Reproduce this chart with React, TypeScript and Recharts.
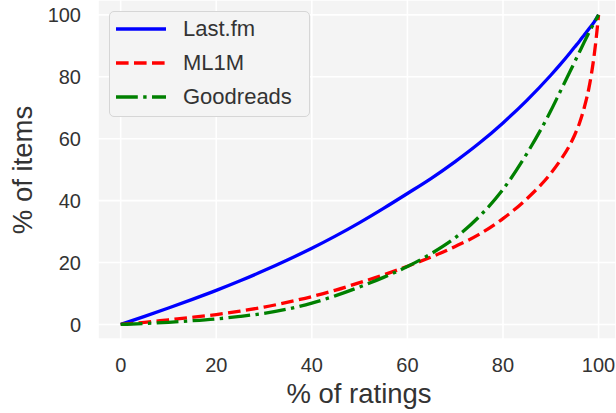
import React from 'react';
import { LineChart, Line, XAxis, YAxis, CartesianGrid, Legend } from 'recharts';

// ---- data ----
const ratingsPct = [0, 5, 10, 15, 20, 25, 30, 35, 40, 45, 50, 55, 60, 65, 70, 75, 80, 85, 90, 92, 94, 95, 96, 97, 98, 98.5, 99, 99.5, 100];
const lastfmItems = [0, 2.6, 5.3, 8.1, 11.0, 14.1, 17.4, 20.9, 24.6, 28.6, 32.9, 37.5, 42.3, 47.2, 52.6, 58.5, 65.1, 72.4, 80.5, 84.0, 87.7, 89.6, 91.5, 93.5, 95.5, 96.5, 97.5, 98.7, 100];
const ml1mItems = [0, 0.7, 1.5, 2.3, 3.2, 4.3, 5.6, 7.2, 9.0, 11.1, 13.5, 16.0, 18.8, 21.8, 25.2, 29.1, 34.2, 40.6, 48.8, 53.0, 58.0, 61.2, 65.0, 70.0, 76.5, 80.8, 86.0, 92.3, 100];
const goodreadsItems = [0, 0.3, 0.7, 1.2, 1.8, 2.6, 3.6, 5.0, 6.9, 9.3, 12.1, 15.2, 18.7, 22.9, 28.0, 34.8, 43.6, 55.2, 69.0, 75.3, 81.6, 84.8, 88.0, 91.2, 94.3, 95.8, 97.2, 98.6, 100];
const xTicks = [0, 20, 40, 60, 80, 100];
const yTicks = [0, 20, 40, 60, 80, 100];
const seriesNames = ['Last.fm', 'ML1M', 'Goodreads'];
const xTitle = '% of ratings';
const yTitle = '% of items';

const data = ratingsPct.map((x, i) => ({
  x,
  lastfm: lastfmItems[i],
  ml1m: ml1mItems[i],
  goodreads: goodreadsItems[i],
}));

const FONT = '"Liberation Sans", Arial, Helvetica, sans-serif';
const TEXT = '#333333';
const BG = '#f4f4f4';
const LW = 3.3;

const seriesStyle = [
  { key: 'lastfm', color: '#0000ff', dash: undefined as string | undefined },
  { key: 'ml1m', color: '#ff0000', dash: '12.6 5.4' },
  { key: 'goodreads', color: '#008000', dash: '21.8 5.4 3.4 5.4' },
];

const XTitle = (props: any) => {
  const vb = props.viewBox || { x: 0, y: 0, width: 0, height: 0 };
  return (
    <text x={vb.x + vb.width / 2 + 2} y={vb.y + 64} textAnchor="middle" fill={TEXT} fontSize={27.5} fontFamily={FONT}>
      {xTitle}
    </text>
  );
};

const YTitle = (props: any) => {
  const vb = props.viewBox || { x: 0, y: 0, width: 0, height: 0 };
  const x = vb.x + 32;
  const y = vb.y + vb.height / 2 + 0.5;
  return (
    <text x={x} y={y} transform={`rotate(-90, ${x}, ${y})`} textAnchor="middle" fill={TEXT} fontSize={27.5} fontFamily={FONT}>
      {yTitle}
    </text>
  );
};

const LegendBox = () => (
  <div
    style={{
      boxSizing: 'border-box',
      width: 201,
      height: 106,
      background: BG,
      border: '1px solid #d6d6d6',
      borderRadius: 5,
      fontFamily: FONT,
      fontSize: 22,
      color: TEXT,
      paddingTop: 0,
    }}
  >
    {seriesStyle.map((s, i) => (
      <div key={s.key} style={{ display: 'flex', alignItems: 'center', height: 34 }}>
        <svg width={50} height={10} style={{ marginLeft: 6, display: 'block' }}>
          <line x1={0} x2={50} y1={5} y2={5} stroke={s.color} strokeWidth={LW} strokeDasharray={s.dash} />
        </svg>
        <span style={{ marginLeft: 17, lineHeight: '34px', whiteSpace: 'nowrap' }}>{seriesNames[i]}</span>
      </div>
    ))}
  </div>
);

export default function App() {
  return (
    <div style={{ position: 'absolute', left: 0, top: 0, width: 616, height: 413, background: '#ffffff' }}>
      <LineChart width={616} height={413} data={data} margin={{ top: 0, right: 0, bottom: 0, left: 0 }}>
        <CartesianGrid fill={BG} stroke="#ffffff" strokeWidth={1.6} />
        <XAxis
          dataKey="x"
          type="number"
          domain={[-4.75, 103.65]}
          allowDataOverflow
          ticks={xTicks}
          interval={0}
          tickLine={false}
          axisLine={false}
          tickSize={0}
          tickMargin={19}
          height={74}
          tick={{ fill: TEXT, fontSize: 20, fontFamily: FONT }}
          label={<XTitle />}
        />
        <YAxis
          type="number"
          domain={[-4.7, 104.8]}
          allowDataOverflow
          ticks={yTicks}
          interval={0}
          tickLine={false}
          axisLine={false}
          tickSize={0}
          tickMargin={17}
          width={98}
          tick={{ fill: TEXT, fontSize: 20, fontFamily: FONT }}
          label={<YTitle />}
        />
        <Legend
          layout="vertical"
          align="center"
          verticalAlign="middle"
          content={() => <LegendBox />}
          wrapperStyle={{ position: 'absolute', left: 109, top: 11, width: 201, height: 106 }}
        />
        {seriesStyle.map((s, i) => (
          <Line
            key={s.key}
            type="monotone"
            dataKey={s.key}
            name={seriesNames[i]}
            stroke={s.color}
            strokeWidth={LW}
            strokeDasharray={s.dash}
            dot={false}
            activeDot={false}
            isAnimationActive={false}
          />
        ))}
      </LineChart>
    </div>
  );
}
